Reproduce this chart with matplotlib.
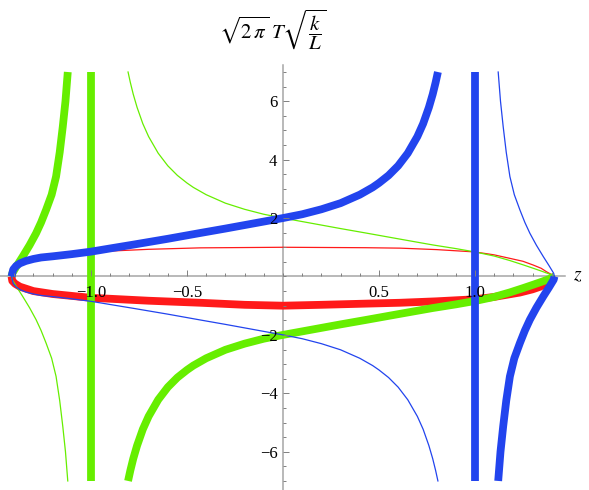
import numpy as np
import matplotlib
matplotlib.use("Agg")
import matplotlib.pyplot as plt
from matplotlib.ticker import MultipleLocator

# values (z, sqrt(2 pi) T sqrt(k/L))
red_thin_z = [-1.414, -1.41, -1.40, -1.38, -1.35, -1.30, -1.25, -1.16, -1.00, -0.70, -0.43, 0.0,
              0.43, 0.61, 0.80, 1.00, 1.10, 1.182, 1.25, 1.304, 1.345, 1.373, 1.395, 1.414]
red_thin_y = [0.0, 0.20, 0.33, 0.46, 0.57, 0.66, 0.72, 0.78, 0.84, 0.93, 0.98, 1.0,
              0.985, 0.97, 0.92, 0.84, 0.74, 0.62, 0.52, 0.39, 0.28, 0.16, 0.08, 0.0]
red_thick_z = [-1.414, -1.41, -1.395, -1.37, -1.30, -1.20, -1.00, -0.70, -0.43, -0.20, 0.0,
               0.20, 0.43, 0.61, 0.80, 1.00, 1.10, 1.234, 1.30, 1.34, 1.375, 1.40, 1.414]
red_thick_y = [0.0, -0.15, -0.25, -0.35, -0.50, -0.60, -0.73, -0.83, -0.90, -0.97, -1.0,
               -0.97, -0.93, -0.90, -0.85, -0.78, -0.70, -0.55, -0.44, -0.35, -0.22, -0.10, 0.0]

# blue main branch (thick above, thin below)
blue_z = [-1.414, -1.405, -1.39, -1.37, -1.34, -1.30, -1.26, -1.20, -1.10, -1.00, -0.90,
          -0.78, -0.60, -0.43, -0.30, -0.15, 0.0, 0.10, 0.20, 0.30, 0.40, 0.467, 0.50,
          0.55, 0.60, 0.65, 0.70, 0.73, 0.76, 0.78, 0.795, 0.807]
blue_thick_y = [0.0, 0.24, 0.36, 0.45, 0.53, 0.60, 0.65, 0.69, 0.765, 0.85, 0.96,
                1.09, 1.29, 1.49, 1.64, 1.82, 2.0, 2.13, 2.30, 2.51, 2.80, 3.05, 3.20,
                3.46, 3.79, 4.22, 4.79, 5.23, 5.79, 6.24, 6.64, 7.0]
blue_thin_y = [0.0, -0.24, -0.36, -0.45, -0.53, -0.60, -0.65, -0.69, -0.765, -0.85, -0.96,
               -1.09, -1.29, -1.49, -1.64, -1.82, -2.0, -2.13, -2.30, -2.51, -2.80, -3.05, -3.20,
               -3.46, -3.79, -4.22, -4.79, -5.23, -5.79, -6.24, -6.64, -7.0]

# blue branches right of z = 1
blue_r_z = [1.121, 1.133, 1.147, 1.163, 1.182, 1.205, 1.234, 1.26, 1.286, 1.32, 1.356, 1.385, 1.41, 1.414]
blue_r_thin_y = [7.0, 6.0, 5.13, 4.25, 3.42, 2.80, 2.28, 1.85, 1.48, 1.07, 0.68, 0.38, 0.11, 0.0]
blue_r_thick_y = [-7.0, -6.0, -5.13, -4.25, -3.42, -2.80, -2.28, -1.85, -1.48, -1.07, -0.68, -0.38, -0.11, 0.0]

# green main branch (thin above, thick below)
green_z = [-0.807, -0.795, -0.78, -0.76, -0.73, -0.70, -0.65, -0.60, -0.55, -0.50, -0.467,
           -0.40, -0.30, -0.20, -0.10, 0.0, 0.15, 0.30, 0.43, 0.60, 0.78, 0.90, 1.00,
           1.10, 1.182, 1.25, 1.304, 1.35, 1.385, 1.414]
green_thin_y = [7.0, 6.64, 6.24, 5.79, 5.23, 4.79, 4.22, 3.79, 3.46, 3.20, 3.05,
                2.80, 2.51, 2.30, 2.13, 2.0, 1.82, 1.64, 1.49, 1.29, 1.08, 0.955, 0.84,
                0.70, 0.545, 0.40, 0.28, 0.175, 0.09, 0.0]
green_thick_y = [-7.0, -6.64, -6.24, -5.79, -5.23, -4.79, -4.22, -3.79, -3.46, -3.20, -3.05,
                 -2.80, -2.51, -2.30, -2.13, -2.0, -1.82, -1.64, -1.49, -1.29, -1.08, -0.955, -0.84,
                 -0.70, -0.545, -0.40, -0.28, -0.175, -0.09, 0.0]

# green branches left of z = -1
green_l_z = [-1.121, -1.133, -1.147, -1.163, -1.182, -1.205, -1.234, -1.26, -1.286, -1.32, -1.356, -1.385, -1.41, -1.414]
green_l_thick_y = [7.0, 6.0, 5.13, 4.25, 3.42, 2.80, 2.28, 1.85, 1.48, 1.07, 0.68, 0.38, 0.11, 0.0]
green_l_thin_y = [-7.0, -6.0, -5.13, -4.25, -3.42, -2.80, -2.28, -1.85, -1.48, -1.07, -0.68, -0.38, -0.11, 0.0]

vline_z = [-1.0, 1.0]
vline_y = [-7.0, 7.0]

x_ticks = [-1.0, -0.5, 0.5, 1.0]
x_ticklabels = ["\u22121.0", "\u22120.5", "0.5", "1.0"]
y_ticks = [-6, -4, -2, 2, 4, 6]
y_ticklabels = ["\u22126", "\u22124", "\u22122", "2", "4", "6"]

RED = "#ff1a1a"
GREEN = "#66ee00"
BLUE = "#2244ee"
THICK = 5.6
THIN = 0.9

plt.rcParams["font.family"] = ["Liberation Serif", "DejaVu Serif"]
plt.rcParams["mathtext.fontset"] = "stix"

fig = plt.figure(figsize=(5.89, 4.9), dpi=100)
ax = fig.add_axes([0, 0, 565 / 589, 425 / 490])

thick = dict(lw=THICK, solid_capstyle="butt")

ax.plot(red_thin_z, red_thin_y, color=RED, lw=THIN)
ax.plot(red_thick_z, red_thick_y, color=RED, **thick)

ax.plot(green_z, green_thin_y, color=GREEN, lw=THIN)
ax.plot(green_l_z, green_l_thin_y, color=GREEN, lw=THIN)
ax.plot(green_z, green_thick_y, color=GREEN, **thick)
ax.plot(green_l_z, green_l_thick_y, color=GREEN, **thick)
ax.plot([vline_z[0]] * 2, vline_y, color=GREEN, **thick)

ax.plot(blue_z, blue_thin_y, color=BLUE, lw=THIN)
ax.plot(blue_r_z, blue_r_thin_y, color=BLUE, lw=THIN)
ax.plot(blue_z, blue_thick_y, color=BLUE, **thick)
ax.plot(blue_r_z, blue_r_thick_y, color=BLUE, **thick)
ax.plot([vline_z[1]] * 2, vline_y, color=BLUE, **thick)

ax.set_xlim(-1.474, 1.469)
ax.set_ylim(-7.31, 7.24)

# axes lines under the curves, tick labels on top of them
ax.set_axisbelow(False)
for side in ["top", "right"]:
    ax.spines[side].set_visible(False)
for side in ["left", "bottom"]:
    ax.spines[side].set_position(("data", 0))
    ax.spines[side].set_color("#a6a6a6")
    ax.spines[side].set_linewidth(1.1)
    ax.spines[side].set_zorder(1)
ax.patch.set_visible(False)

ax.set_xticks(x_ticks)
ax.set_xticklabels(x_ticklabels)
ax.set_yticks(y_ticks)
ax.set_yticklabels(y_ticklabels)
ax.xaxis.set_minor_locator(MultipleLocator(0.1))
ax.yaxis.set_minor_locator(MultipleLocator(0.5))
ax.tick_params(which="both", direction="in", color="#808080", width=0.7, labelsize=12)
ax.tick_params(which="major", length=4.5)
ax.tick_params(which="minor", length=2.5)
ax.tick_params(axis="x", pad=6)
ax.tick_params(axis="y", pad=4)

fig.text(578 / 589, 1 - 276 / 490, "$z$", fontsize=14, ha="center", va="center")
fig.text(273 / 589, 1 - 30 / 490, r"$\sqrt{2\,\pi}\;T\sqrt{\dfrac{k}{L}}$",
         fontsize=15, ha="center", va="center")

fig.savefig("out.png", dpi=100)
